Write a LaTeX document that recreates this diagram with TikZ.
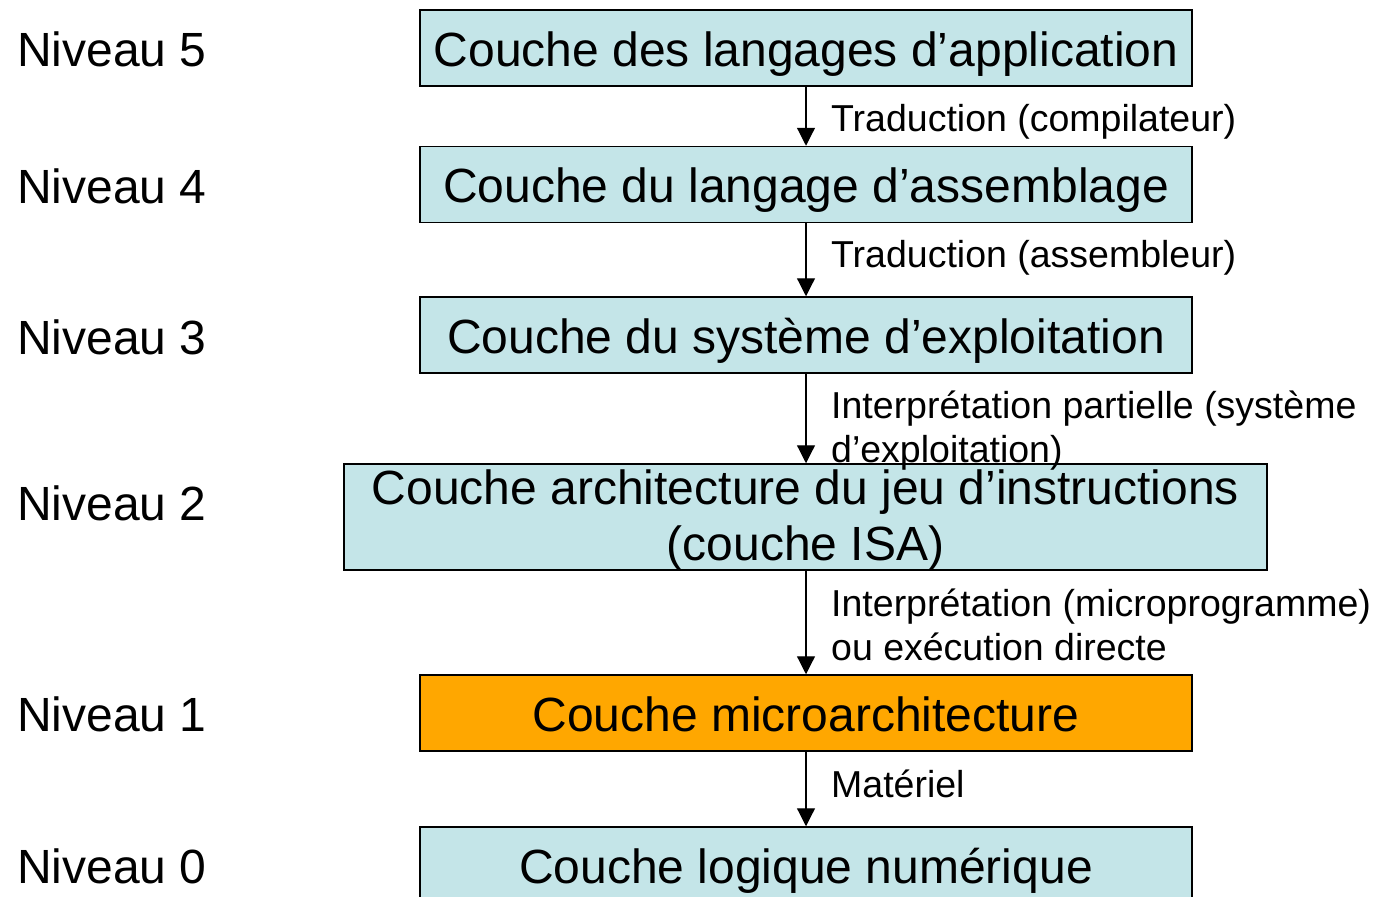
\documentclass[tikz,border=0pt]{standalone}
\usepackage{fontspec}
\setmainfont{Liberation Sans}
\usetikzlibrary{arrows.meta}
\definecolor{couchebleu}{RGB}{196,229,232}
\definecolor{coucheorange}{RGB}{255,167,0}
\tikzset{
  couche/.style={draw,line width=1.5pt,fill=couchebleu,minimum width=772pt,minimum height=76pt,
    inner sep=0pt,font=\fontsize{48}{56}\selectfont,text height=43.2pt,text depth=7.2pt},
  niveau/.style={anchor=base west,inner sep=0pt,font=\fontsize{48}{56}\selectfont},
  trad/.style={anchor=west,inner sep=0pt,align=left,font=\fontsize{37.5}{44}\selectfont},
  fleche/.style={line width=1.2pt,-{Triangle[width=18pt,length=18pt]}}
}
\begin{document}
\begin{tikzpicture}[x=1pt,y=-1pt]
\useasboundingbox (0,0) rectangle (1374,897);
\node[couche] (c5) at (806,48) {Couche des langages d'application};
\node[couche] (c4) at (806,184.5) {Couche du langage d'assemblage};
\node[couche] (c3) at (806,335) {Couche du système d'exploitation};
\node[couche,minimum width=923pt,minimum height=106pt,align=center,text height={},text depth=4pt] (c2) at (805.5,517) {Couche architecture du jeu d'instructions\\(couche ISA)};
\node[couche,fill=coucheorange] (c1) at (806,713) {Couche microarchitecture};
\node[couche] (c0) at (806,865) {Couche logique numérique};
\node[niveau] (n5) at (17,66) {Niveau 5};
\node[niveau] (n4) at (17,203) {Niveau 4};
\node[niveau] (n3) at (17,354) {Niveau 3};
\node[niveau] (n2) at (17,520) {Niveau 2};
\node[niveau] (n1) at (17,731) {Niveau 1};
\node[niveau] (n0) at (17,883) {Niveau 0};
\draw[fleche] (c5.south) -- (c4.north);
\draw[fleche] (c4.south) -- (c3.north);
\draw[fleche] (c3.south) -- (c3.south |- c2.north);
\draw[fleche] (c2.south -| c1.north) -- (c1.north);
\draw[fleche] (c1.south) -- (c0.north);
\node[trad] (t5) at (831,121.5) {Traduction (compilateur)};
\node[trad] (t4) at (831,257.5) {Traduction (assembleur)};
\node[trad] (t3) at (831,430.5) {Interprétation partielle (système\\d'exploitation)};
\node[trad] (t2) at (831,625) {Interprétation (microprogramme)\\ou exécution directe};
\node[trad] (t1) at (831,784) {Matériel};
\end{tikzpicture}
\end{document}
